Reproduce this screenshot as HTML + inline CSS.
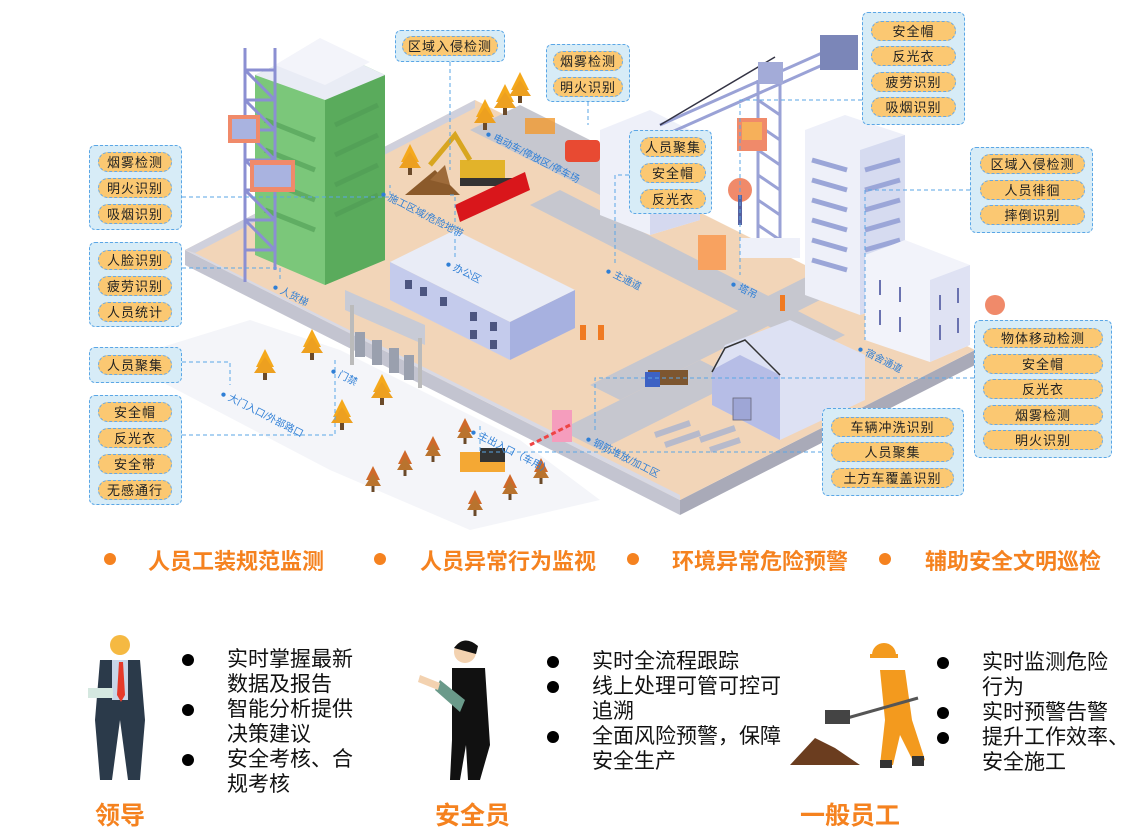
<!DOCTYPE html>
<html><head><meta charset="utf-8"><style>
body{margin:0;background:#fff;}
#w{position:relative;width:1142px;height:835px;overflow:hidden;font-family:"Liberation Sans","Noto Sans CJK SC",sans-serif;}
svg{position:absolute;left:0;top:0}
.box{position:absolute;background:#d7ecf7;border:1.5px dashed #5aa6e6;border-radius:6px;box-sizing:border-box;}
.pill{position:absolute;height:20px;line-height:20px;background:#fbc872;border:1.5px dashed #6aa8e0;border-radius:10px;box-sizing:border-box;text-align:center;font-size:13px;color:#222;letter-spacing:1px}
.h{position:absolute;top:544px;font-size:22px;font-weight:bold;color:#f5821f;white-space:nowrap}
.dot{position:absolute;width:12px;height:12px;border-radius:50%;background:#f5821f;top:553px}
.t{position:absolute;font-size:21px;line-height:25px;color:#111;white-space:nowrap}
.b{position:absolute;width:12px;height:12px;border-radius:50%;background:#000}
.ttl{position:absolute;top:796px;font-size:25px;font-weight:bold;color:#f5821f}
.ml{position:absolute;font-size:10px;color:#2f7fd6;white-space:nowrap;transform-origin:0 0}
</style></head><body><div id="w">
<svg width="1142" height="835" viewBox="0 0 1142 835">
<defs>
<g id="ty"><polygon points="0,-16 -9,2 9,2" fill="#f5a91c"/><polygon points="0,-8 -11,8 11,8" fill="#eda020"/><rect x="-2" y="8" width="4" height="7" fill="#6b4a2a"/></g>
<g id="tb"><polygon points="0,-12 -7,2 7,2" fill="#d0692a"/><polygon points="0,-5 -8,8 8,8" fill="#b9732e"/><rect x="-1.5" y="8" width="3" height="6" fill="#6b4a2a"/></g>
</defs>
<polygon points="120,360 330,470 470,530 600,500 520,440 340,350 250,320" fill="#f4f5f9"/>
<polygon points="185,250 680,500 680,515 185,265" fill="#c3c4d0"/>
<polygon points="680,500 975,350 975,365 680,515" fill="#a9aab8"/>
<polygon points="185,250 475,100 975,350 680,500" fill="#f2d5b8"/>
<polygon points="185,250 475,100 475,108 195,253" fill="#cfd0dc"/>
<polygon points="195,253 680,495 680,500 185,250" fill="#d8d9e4"/>
<polygon points="470,130 520,105 650,170 600,195" fill="#c6c7cf"/>
<polygon points="530,205 560,190 845,335 815,350" fill="#c6c7cf"/>
<polygon points="590,385 860,250 890,265 620,400" fill="#c6c7cf"/>
<polygon points="560,430 700,360 740,380 600,450" fill="#c6c7cf"/>
<polygon points="255,75 320,45 385,75 385,260 325,285 255,255" fill="#7bc77a"/>
<polygon points="325,100 385,75 385,260 325,285" fill="#5aab5c"/>
<polygon points="255,75 320,45 385,75 325,100" fill="#e9ecf5"/>
<polygon points="275,65 320,38 370,62 325,85" fill="#f3f4fa"/>
<g stroke="#4f9c55" stroke-width="5" opacity=".6">
<line x1="265" y1="120" x2="315" y2="140"/><line x1="265" y1="150" x2="315" y2="170"/><line x1="265" y1="180" x2="315" y2="200"/><line x1="265" y1="210" x2="315" y2="230"/>
<line x1="335" y1="125" x2="378" y2="105"/><line x1="335" y1="155" x2="378" y2="135"/><line x1="335" y1="185" x2="378" y2="165"/><line x1="335" y1="215" x2="378" y2="195"/></g>
<g stroke="#8b8fd2" stroke-width="3" fill="none">
<line x1="245" y1="48" x2="245" y2="282"/><line x1="275" y1="48" x2="275" y2="270"/>
<path d="M245 70h30M245 100h30M245 130h30M245 160h30M245 190h30M245 220h30M245 250h30"/>
<path d="M245 70l30 30M245 100l30 30M245 130l30 30M245 160l30 30M245 190l30 30M245 220l30 30"/></g>
<rect x="228" y="115" width="32" height="28" fill="#f08a6a"/><rect x="232" y="119" width="24" height="20" fill="#a9b3e0"/>
<rect x="250" y="160" width="45" height="32" fill="#f08a6a"/><rect x="254" y="165" width="37" height="22" fill="#a9b3e0"/>
<use href="#ty" x="410" y="160"/><use href="#ty" x="485" y="115"/><use href="#ty" x="505" y="100"/><use href="#ty" x="520" y="88"/>
<use href="#ty" x="312" y="345"/><use href="#ty" x="265" y="365"/><use href="#ty" x="382" y="390"/><use href="#ty" x="342" y="415"/>
<use href="#tb" x="465" y="430"/><use href="#tb" x="433" y="448"/><use href="#tb" x="405" y="462"/><use href="#tb" x="373" y="478"/><use href="#tb" x="510" y="486"/><use href="#tb" x="541" y="470"/><use href="#tb" x="475" y="502"/>
<polygon points="405,195 435,170 460,195" fill="#8b5a2b"/><polygon points="430,180 445,165 450,185" fill="#9e6b3a"/>
<rect x="460" y="160" width="45" height="25" fill="#e2b32a"/><rect x="460" y="178" width="55" height="8" fill="#333"/>
<path d="M470 160 L455 135 L430 165" stroke="#d8a620" stroke-width="5" fill="none"/>
<polygon points="455,205 525,172 530,190 460,222" fill="#d9161b"/>
<rect x="565" y="140" width="35" height="22" rx="4" fill="#e84a32"/><rect x="525" y="118" width="30" height="16" fill="#f29a2e" opacity=".8"/>
<polygon points="390,262 455,230 575,290 510,322" fill="#e9ecf6"/>
<polygon points="390,262 510,322 510,360 390,300" fill="#c4cbec"/>
<polygon points="510,322 575,290 575,328 510,360" fill="#a7b1e0"/>
<g fill="#4c5580"><rect x="405" y="280" width="7" height="9"/><rect x="420" y="287" width="7" height="9"/><rect x="440" y="297" width="7" height="9"/><rect x="470" y="312" width="7" height="9"/><rect x="490" y="322" width="7" height="9"/><rect x="470" y="330" width="7" height="9"/><rect x="490" y="340" width="7" height="9"/></g>
<polygon points="345,290 425,325 425,345 345,310" fill="#c8cbd6"/>
<rect x="350" y="305" width="4" height="60" fill="#bbb"/><rect x="418" y="338" width="4" height="50" fill="#bbb"/>
<g fill="#9aa0ae"><rect x="355" y="332" width="10" height="25"/><rect x="372" y="340" width="10" height="25"/><rect x="389" y="348" width="10" height="25"/><rect x="404" y="355" width="10" height="25"/></g>
<polygon points="600,130 650,110 700,135 700,220 650,235 600,215" fill="#eef0f9"/>
<polygon points="650,155 700,135 700,220 650,235" fill="#d5d9ef"/>
<g stroke="#9aa2d6" stroke-width="3" fill="none"><line x1="758" y1="80" x2="758" y2="240"/><line x1="780" y1="80" x2="780" y2="240"/>
<path d="M758 100l22 15M758 125l22 15M758 150l22 15M758 175l22 15M758 200l22 15M758 225l22 15"/>
<line x1="660" y1="125" x2="840" y2="45"/><line x1="665" y1="135" x2="845" y2="55"/></g>
<line x1="660" y1="125" x2="775" y2="57" stroke="#334" stroke-width="1.5"/>
<rect x="820" y="35" width="38" height="35" fill="#7b86b8"/><rect x="758" y="62" width="25" height="22" fill="#a3abd8"/>
<rect x="740" y="238" width="60" height="20" fill="#eef0f9"/>
<rect x="737" y="118" width="30" height="33" fill="#f08a6a"/><rect x="742" y="122" width="20" height="18" fill="#f6b05a"/>
<circle cx="740" cy="190" r="12" fill="#f08a6a"/><rect x="738" y="195" width="4" height="30" fill="#5560a0"/>
<rect x="698" y="235" width="28" height="35" fill="#f8a260"/>
<polygon points="805,130 845,115 905,135 905,300 860,315 805,295" fill="#eef0f9"/>
<polygon points="860,150 905,135 905,300 860,315" fill="#d6dbf0"/>
<g stroke="#9ba6d8" stroke-width="5"><path d="M812 160l35 10M812 180l35 10M812 200l35 10M812 220l35 10M812 240l35 10M812 260l35 10"/>
<path d="M865 170l35-10M865 190l35-10M865 210l35-10M865 230l35-10M865 250l35-10"/></g>
<polygon points="865,255 905,240 970,265 970,345 930,362 865,340" fill="#f2f3fa"/>
<polygon points="930,280 970,265 970,345 930,362" fill="#dfe2f3"/>
<g stroke="#6a72b0" stroke-width="2"><path d="M880 280v15M900 287v15M880 310v15M900 317v15M940 295v15M958 288v15M940 325v15M958 318v15"/></g>
<circle cx="995" cy="305" r="10" fill="#f08a6a"/>
<polygon points="712,370 725,345 790,320 865,355 865,400 780,440 712,405" fill="#dde1f3"/>
<polygon points="712,370 740,355 780,375 780,440 712,405" fill="#b6bde6"/>
<path d="M712 372 L725 348 L745 340 L780 375" stroke="#333" stroke-width="1.5" fill="none"/>
<rect x="733" y="398" width="18" height="22" fill="#9ea6d6" stroke="#667" stroke-width=".8"/>
<rect x="648" y="370" width="40" height="15" fill="#7d5630"/><rect x="645" y="372" width="15" height="15" fill="#3d62c4"/>
<rect x="460" y="452" width="45" height="20" fill="#f4a834"/><rect x="480" y="448" width="25" height="14" fill="#333"/>
<rect x="552" y="410" width="20" height="32" fill="#f59dbd"/>
<line x1="570" y1="425" x2="530" y2="445" stroke="#e44" stroke-width="3" stroke-dasharray="5 3"/>
<g stroke="#b7bacb" stroke-width="6"><path d="M655 435l35-12M665 445l35-12M700 440l35-12M710 450l30-10"/></g>
<rect x="580" y="325" width="6" height="15" fill="#f07a22"/><rect x="598" y="325" width="6" height="15" fill="#f07a22"/><rect x="780" y="295" width="5" height="16" fill="#f07a22"/>
<g stroke="#5aa6e6" stroke-width="1" stroke-dasharray="4 3" fill="none">
<path d="M182 197H390V185"/><path d="M182 268H280V280"/><path d="M182 362H230V385"/><path d="M182 435H335V360"/>
<path d="M450 62V170M450 195H455V260"/>
<path d="M588 102V125"/><path d="M629 175H615V265"/>
<path d="M862 100H740V275"/><path d="M970 190H865V340"/><path d="M974 378H595V430"/><path d="M822 452H480V425"/>
</g>
</svg>
<div class="ml" style="left:225px;top:385px;transform:rotate(27deg)">● 大门入口/外部路口</div>
<div class="ml" style="left:335px;top:362px;transform:rotate(27deg)">● 门禁</div>
<div class="ml" style="left:277px;top:278px;transform:rotate(27deg)">● 人货梯</div>
<div class="ml" style="left:385px;top:185px;transform:rotate(27deg)">● 施工区域/危险地带</div>
<div class="ml" style="left:450px;top:255px;transform:rotate(27deg)">● 办公区</div>
<div class="ml" style="left:490px;top:125px;transform:rotate(27deg)">● 电动车/停放区/停车场</div>
<div class="ml" style="left:610px;top:262px;transform:rotate(27deg)">● 主通道</div>
<div class="ml" style="left:735px;top:275px;transform:rotate(27deg)">● 塔吊</div>
<div class="ml" style="left:862px;top:340px;transform:rotate(27deg)">● 宿舍通道</div>
<div class="ml" style="left:590px;top:430px;transform:rotate(27deg)">● 钢筋堆放/加工区</div>
<div class="ml" style="left:475px;top:423px;transform:rotate(27deg)">● 主出入口（车用）</div>
<div class="box" style="left:89px;top:145px;width:93px;height:85px"></div>
<div class="pill" style="left:98px;top:152px;width:74px">烟雾检测</div><div class="pill" style="left:98px;top:178px;width:74px">明火识别</div><div class="pill" style="left:98px;top:204px;width:74px">吸烟识别</div>
<div class="box" style="left:89px;top:242px;width:93px;height:85px"></div>
<div class="pill" style="left:98px;top:250px;width:74px">人脸识别</div><div class="pill" style="left:98px;top:276px;width:74px">疲劳识别</div><div class="pill" style="left:98px;top:302px;width:74px">人员统计</div>
<div class="box" style="left:89px;top:347px;width:93px;height:36px"></div>
<div class="pill" style="left:98px;top:355px;width:74px">人员聚集</div>
<div class="box" style="left:89px;top:395px;width:93px;height:110px"></div>
<div class="pill" style="left:98px;top:402px;width:74px">安全帽</div><div class="pill" style="left:98px;top:428px;width:74px">反光衣</div><div class="pill" style="left:98px;top:454px;width:74px">安全带</div><div class="pill" style="left:98px;top:480px;width:74px">无感通行</div>
<div class="box" style="left:395px;top:30px;width:110px;height:32px"></div>
<div class="pill" style="left:402px;top:36px;width:96px">区域入侵检测</div>
<div class="box" style="left:546px;top:44px;width:84px;height:58px"></div>
<div class="pill" style="left:553px;top:51px;width:70px">烟雾检测</div><div class="pill" style="left:553px;top:77px;width:70px">明火识别</div>
<div class="box" style="left:629px;top:130px;width:83px;height:84px"></div>
<div class="pill" style="left:640px;top:137px;width:66px">人员聚集</div><div class="pill" style="left:640px;top:163px;width:66px">安全帽</div><div class="pill" style="left:640px;top:189px;width:66px">反光衣</div>
<div class="box" style="left:862px;top:12px;width:103px;height:113px"></div>
<div class="pill" style="left:871px;top:21px;width:85px">安全帽</div><div class="pill" style="left:871px;top:46px;width:85px">反光衣</div><div class="pill" style="left:871px;top:72px;width:85px">疲劳识别</div><div class="pill" style="left:871px;top:97px;width:85px">吸烟识别</div>
<div class="box" style="left:970px;top:147px;width:123px;height:86px"></div>
<div class="pill" style="left:980px;top:154px;width:105px">区域入侵检测</div><div class="pill" style="left:980px;top:180px;width:105px">人员徘徊</div><div class="pill" style="left:980px;top:205px;width:105px">摔倒识别</div>
<div class="box" style="left:974px;top:320px;width:138px;height:138px"></div>
<div class="pill" style="left:983px;top:328px;width:120px">物体移动检测</div><div class="pill" style="left:983px;top:354px;width:120px">安全帽</div><div class="pill" style="left:983px;top:379px;width:120px">反光衣</div><div class="pill" style="left:983px;top:405px;width:120px">烟雾检测</div><div class="pill" style="left:983px;top:430px;width:120px">明火识别</div>
<div class="box" style="left:822px;top:408px;width:142px;height:88px"></div>
<div class="pill" style="left:831px;top:417px;width:123px">车辆冲洗识别</div><div class="pill" style="left:831px;top:442px;width:123px">人员聚集</div><div class="pill" style="left:831px;top:468px;width:123px">土方车覆盖识别</div>
<div class="dot" style="left:104px"></div><div class="h" style="left:148px">人员工装规范监测</div>
<div class="dot" style="left:374px"></div><div class="h" style="left:420px">人员异常行为监视</div>
<div class="dot" style="left:627px"></div><div class="h" style="left:672px">环境异常危险预警</div>
<div class="dot" style="left:879px"></div><div class="h" style="left:925px">辅助安全文明巡检</div>
<svg width="1142" height="835" style="pointer-events:none">
<g><circle cx="120" cy="645" r="10" fill="#f5b942"/><polygon points="100,660 140,660 145,720 140,780 128,780 120,720 112,780 100,780 95,720" fill="#2b3a4a"/><rect x="112" y="660" width="16" height="40" fill="#c8d6e8"/><polygon points="119,662 123,662 125,695 121,702 117,695" fill="#e53a2a"/><rect x="88" y="688" width="25" height="10" fill="#d5e8e0"/></g>
<g><circle cx="465" cy="652" r="11" fill="#f3d2b0"/><path d="M454 648 q10-14 24 -2 l-2 8z" fill="#111"/><polygon points="452,668 485,668 490,745 480,780 468,780 466,745 460,780 450,780 452,740" fill="#111"/><polygon points="440,680 465,700 460,712 435,690" fill="#6a9a8a"/><polygon points="420,675 440,683 438,690 418,682" fill="#f3d2b0"/></g>
<g><path d="M872 655 a12 12 0 0 1 24 0z" fill="#f39a1e"/><rect x="870" y="654" width="28" height="4" fill="#f39a1e"/><polygon points="880,670 905,670 912,720 925,760 915,765 900,735 893,765 880,765 885,720" fill="#f39a1e"/><rect x="880" y="760" width="12" height="8" fill="#333"/><rect x="912" y="756" width="12" height="10" fill="#333"/>
<line x1="840" y1="720" x2="918" y2="698" stroke="#555" stroke-width="3"/><rect x="825" y="710" width="25" height="14" fill="#444"/><polygon points="790,765 815,738 835,748 860,765" fill="#6b3d1f"/></g>
</svg>
<div class="b" style="left:182px;top:654px"></div><div class="b" style="left:182px;top:704px"></div><div class="b" style="left:182px;top:754px"></div>
<div class="t" style="left:227px;top:647px">实时掌握最新<br>数据及报告<br>智能分析提供<br>决策建议<br>安全考核、合<br>规考核</div>
<div class="b" style="left:547px;top:656px"></div><div class="b" style="left:547px;top:681px"></div><div class="b" style="left:547px;top:731px"></div>
<div class="t" style="left:592px;top:649px">实时全流程跟踪<br>线上处理可管可控可<br>追溯<br>全面风险预警，保障<br>安全生产</div>
<div class="b" style="left:937px;top:657px"></div><div class="b" style="left:937px;top:707px"></div><div class="b" style="left:937px;top:732px"></div>
<div class="t" style="left:982px;top:650px">实时监测危险<br>行为<br>实时预警告警<br>提升工作效率、<br>安全施工</div>
<div class="ttl" style="left:95px">领导</div><div class="ttl" style="left:435px">安全员</div><div class="ttl" style="left:800px">一般员工</div>
</div></body></html>
